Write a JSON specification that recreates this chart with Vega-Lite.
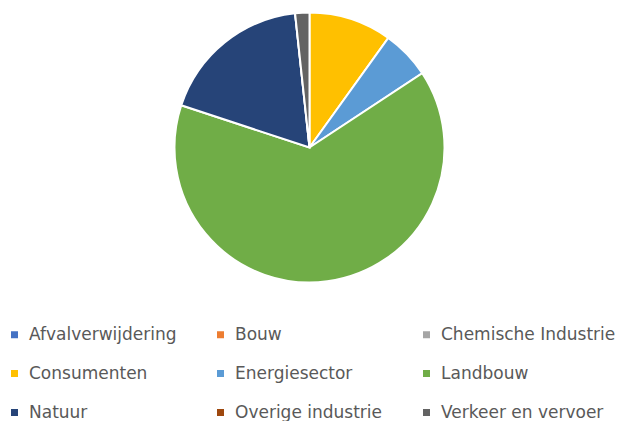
{
  "$schema": "https://vega.github.io/schema/vega-lite/v6.json",
  "width": 619,
  "height": 295,
  "autosize": "none",
  "padding": {"left": 0, "top": 0, "right": 0, "bottom": 126},
  "background": "white",
  "config": {"view": {"stroke": null}},
  "data": {
    "values": [
      {"sector": "Afvalverwijdering", "aandeel": 0},
      {"sector": "Bouw", "aandeel": 0},
      {"sector": "Chemische Industrie", "aandeel": 0},
      {"sector": "Consumenten", "aandeel": 9.9},
      {"sector": "Energiesector", "aandeel": 5.8},
      {"sector": "Landbouw", "aandeel": 64.2},
      {"sector": "Natuur", "aandeel": 18.2},
      {"sector": "Overige industrie", "aandeel": 0},
      {"sector": "Verkeer en vervoer", "aandeel": 1.7}
    ]
  },
  "mark": {"type": "arc", "outerRadius": 135, "stroke": "white", "strokeWidth": 2},
  "encoding": {
    "theta": {"field": "aandeel", "type": "quantitative", "stack": true},
    "color": {
      "field": "sector",
      "type": "nominal",
      "sort": ["Afvalverwijdering", "Bouw", "Chemische Industrie", "Consumenten", "Energiesector", "Landbouw", "Natuur", "Overige industrie", "Verkeer en vervoer"],
      "scale": {
        "domain": ["Afvalverwijdering", "Bouw", "Chemische Industrie", "Consumenten", "Energiesector", "Landbouw", "Natuur", "Overige industrie", "Verkeer en vervoer"],
        "range": ["#4472C4", "#ED7D31", "#A5A5A5", "#FFC000", "#5B9BD5", "#70AD47", "#264478", "#9E480E", "#636363"]
      },
      "legend": {
        "title": null,
        "orient": "none",
        "direction": "horizontal",
        "legendX": 6,
        "legendY": 326,
        "columns": 3,
        "gridAlign": "all",
        "columnPadding": 8,
        "rowPadding": 21,
        "symbolType": "square",
        "symbolSize": 49,
        "symbolStrokeWidth": 0,
        "labelOffset": 6,
        "labelFont": "DejaVu Sans",
        "labelFontSize": 17,
        "labelColor": "#595959",
        "labelLimit": 300
      }
    }
  }
}
